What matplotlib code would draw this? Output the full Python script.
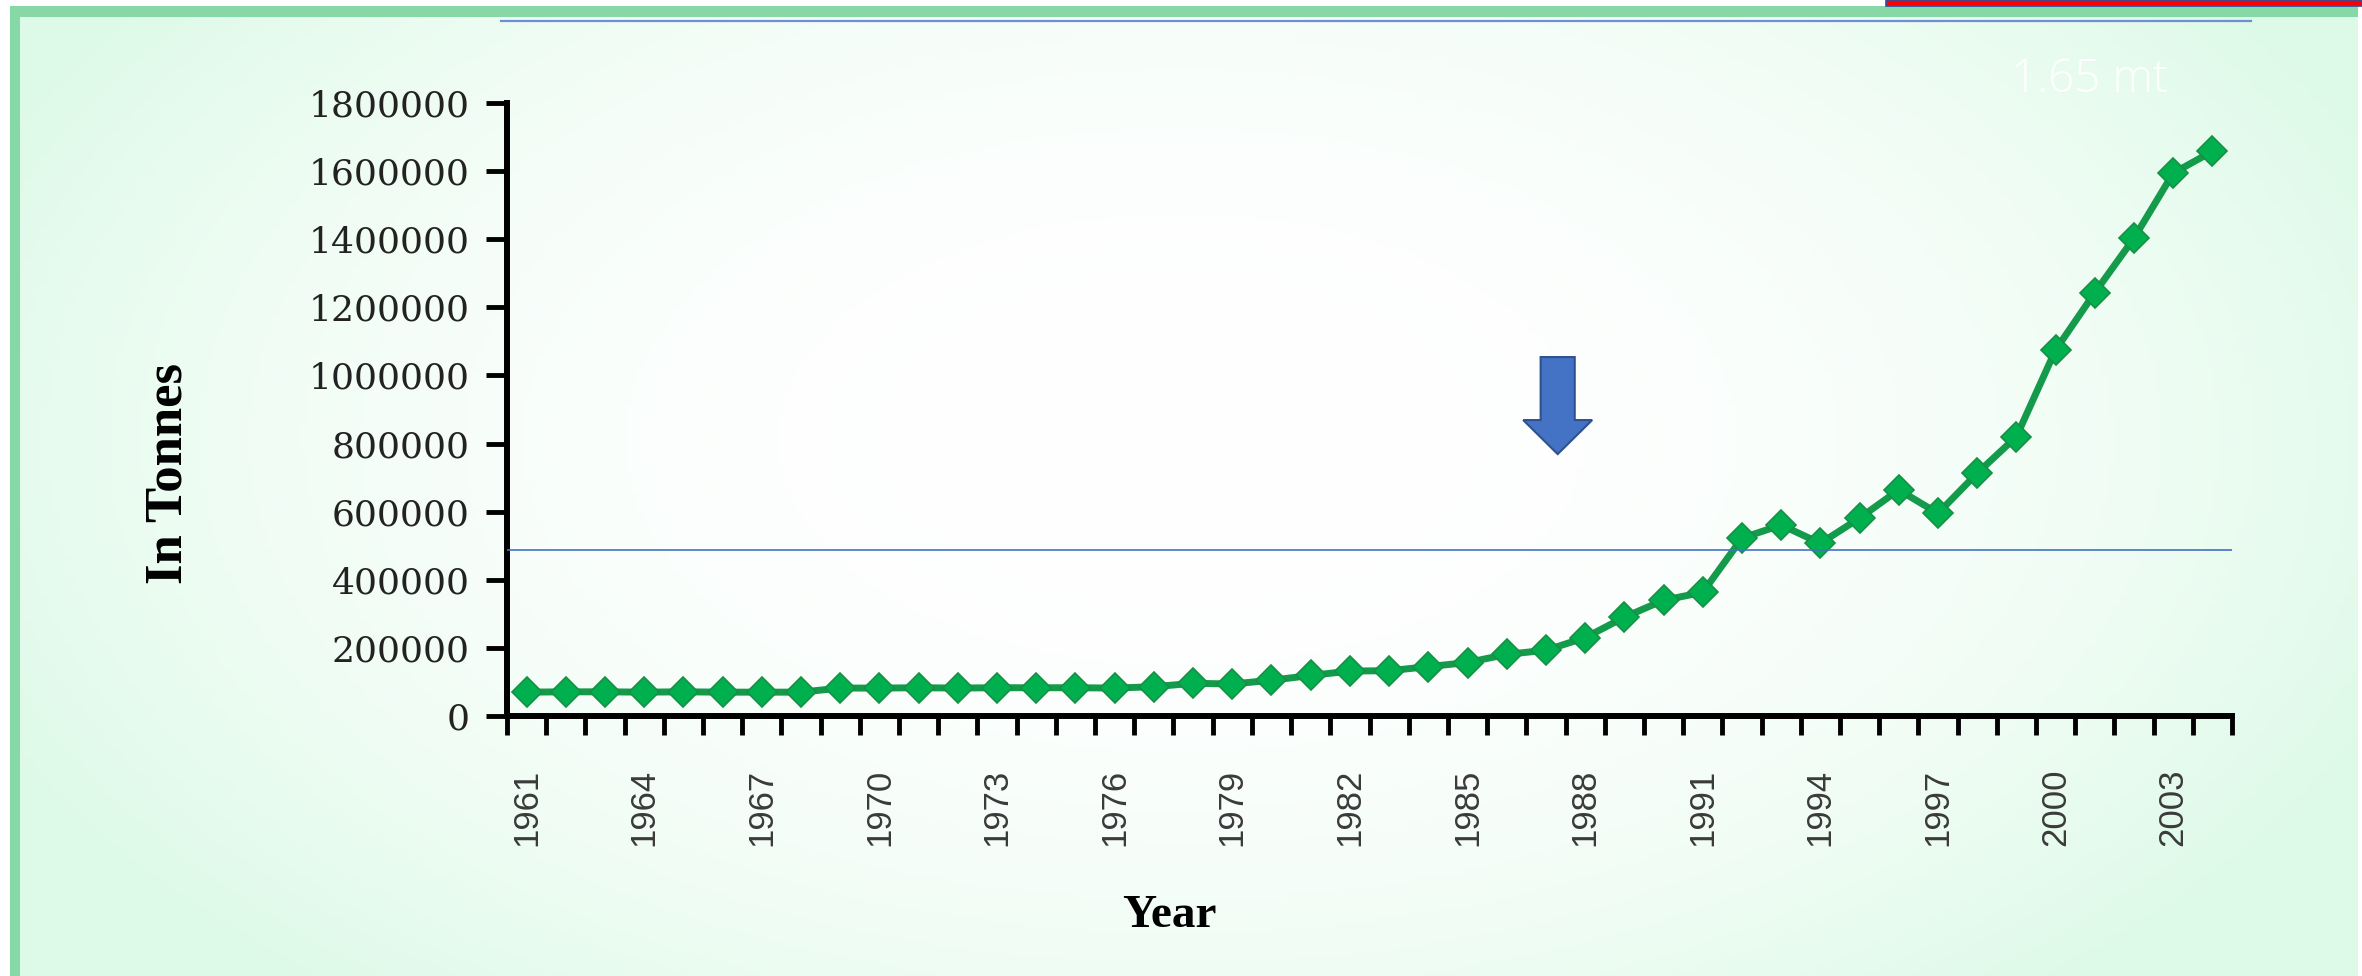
import numpy as np
import matplotlib
matplotlib.use("Agg")
import matplotlib.pyplot as plt
from matplotlib.patches import Rectangle, FancyArrow
from matplotlib.lines import Line2D

# Data (tonnes per year)
years = list(range(1961, 2005))
tonnes = [70000, 71000, 71000, 70000, 71000, 70000, 70000, 70000,
          82000, 82000, 83000, 82000, 83000, 83000, 83000, 82000,
          86000, 96000, 94000, 105000, 119000, 132000, 133000, 145000,
          157000, 181000, 193000, 230000, 290000, 340000, 363000,
          522000, 561000, 507000, 581000, 664000, 595000, 713000,
          820000, 1075000, 1243000, 1403000, 1594000, 1658000]

label_years = list(range(1961, 2004, 3))
y_ticks = list(range(0, 1800001, 200000))
y_labels = [str(v) for v in y_ticks]

W, H = 2362, 976
fig = plt.figure(figsize=(W / 100, H / 100), dpi=100)


def fx(px):
    return px / W


def fy(py):
    return 1 - py / H


# slide background: white centre fading into mint at the edges
bg = fig.add_axes([0, 0, 1, 1], zorder=-10)
gx, gy = np.meshgrid(np.linspace(0, 1, 400), np.linspace(0, 1, 200))
d = np.sqrt(((gx - 0.5) / 0.55) ** 2 + ((gy - 0.45) / 0.75) ** 2)
w = np.clip(d, 0, 1) ** 2.4
white = np.array([1.0, 1.0, 1.0])
mint = np.array([0.87, 0.98, 0.91])
img = white * (1 - w[..., None]) + mint * w[..., None]
bg.imshow(img, aspect="auto", extent=[0, 1, 0, 1], origin="upper")
bg.set_xlim(0, 1)
bg.set_ylim(0, 1)
bg.axis("off")

# frame pieces
fig.patches.append(Rectangle((0, fy(6)), 1, 6 / H, transform=fig.transFigure,
                             facecolor="white", edgecolor="none", zorder=-5))
fig.patches.append(Rectangle((0, 0), fx(10), 1, transform=fig.transFigure,
                             facecolor="white", edgecolor="none", zorder=-5))
fig.patches.append(Rectangle((fx(2358), 0), 1 - fx(2358), 1, transform=fig.transFigure,
                             facecolor="white", edgecolor="none", zorder=-5))
fig.patches.append(Rectangle((fx(10), fy(17)), fx(2348), 11 / H, transform=fig.transFigure,
                             facecolor="#86d8a6", edgecolor="none", zorder=-4))
fig.patches.append(Rectangle((fx(10), 0), fx(10), fy(6), transform=fig.transFigure,
                             facecolor="#86d8a6", edgecolor="none", zorder=-4))
fig.patches.append(Rectangle((fx(1886), fy(6)), 1 - fx(1886), 6 / H, transform=fig.transFigure,
                             facecolor="#ff0000", edgecolor="#2f4f9f", linewidth=1.2, zorder=-3))
fig.lines.append(Line2D([fx(501), fx(2251)], [fy(21), fy(21)], transform=fig.transFigure,
                        color="#6f8fd2", linewidth=1.6))

# chart
ax = fig.add_axes([fx(507), fy(716), fx(2232) - fx(507), fy(103) - fy(716)])
ax.patch.set_alpha(0)

ax.plot(years, tonnes, color="#139a4a", linewidth=5, marker="D", markersize=15,
        markerfacecolor="#00b04f", markeredgecolor="#178f45", markeredgewidth=1.2,
        zorder=3, clip_on=False)

ax.axhline(488000, color="#4472c4", linewidth=1.2, zorder=4)

ax.set_xlim(1960.5, 2004.5)
ax.set_ylim(0, 1800000)

for side in ["top", "right"]:
    ax.spines[side].set_visible(False)
for side in ["left", "bottom"]:
    ax.spines[side].set_linewidth(4.3)
    ax.spines[side].set_color("black")

# tick marks between categories, labels every third year
ax.set_xticks(np.arange(1960.5, 2005, 1.0))
ax.set_xticklabels([])
ax.set_xticks(label_years, minor=True)
ax.set_xticklabels([str(y) for y in label_years], minor=True, rotation=90,
                   fontsize=25, family="Liberation Sans", color="#3a3a3a")
ax.tick_params(axis="x", which="major", direction="out", length=14, width=3.5, color="black")
ax.tick_params(axis="x", which="minor", length=0, pad=38)

ax.set_yticks(y_ticks)
ax.set_yticklabels(y_labels, fontsize=26, family="DejaVu Serif", color="#222222")
ax.tick_params(axis="y", direction="out", length=15, width=3.5, color="black", pad=12)

# blue down arrow
arrow = FancyArrow(1987.3, 1054000, 0, -285000, width=0.87, head_width=1.76,
                   head_length=100000, length_includes_head=True,
                   facecolor="#4472c4", edgecolor="#2f528f", linewidth=1.5,
                   zorder=5, clip_on=False)
ax.add_patch(arrow)

fig.text(fx(169), fy(474), "In Tonnes", rotation=90, ha="center", va="center",
         fontsize=38, fontweight="bold", family="Liberation Serif", color="black")
fig.text(fx(1169), fy(916), "Year", ha="center", va="center",
         fontsize=34, fontweight="bold", family="Liberation Serif", color="black")
fig.text(fx(2090), fy(80), "1.65 mt", ha="center", va="center",
         fontsize=33, fontweight="light", family="Open Sans", color="white")

plt.savefig("out.png", dpi=100)
